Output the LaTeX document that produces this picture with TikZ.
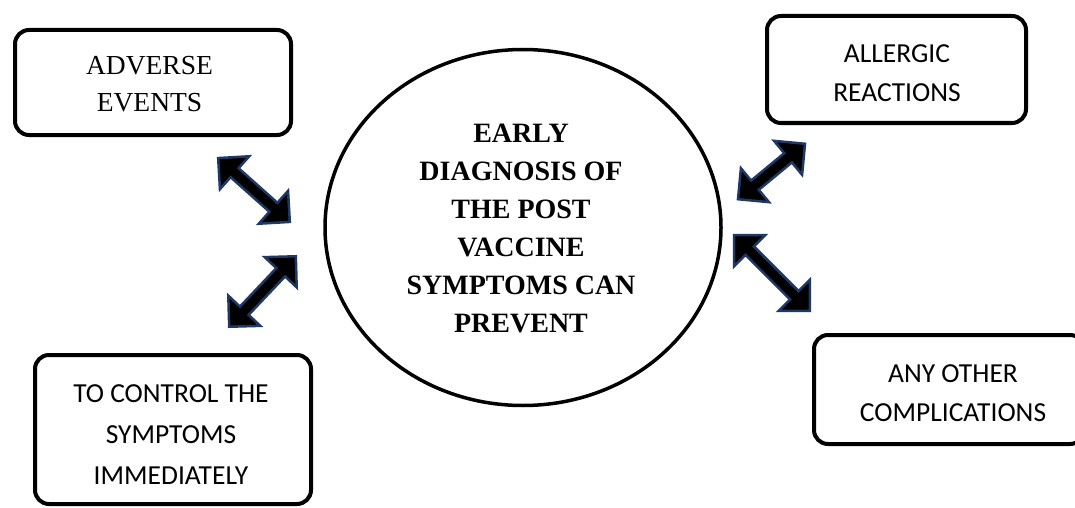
\documentclass[tikz,border=0pt]{standalone}
\usepackage{fontspec}
\setmainfont{Liberation Serif}
\newfontfamily\calib{Carlito}
\usetikzlibrary{shapes.geometric}
\definecolor{arrownavy}{RGB}{31,56,100}
\tikzset{
  roundbox/.style={draw=black, line width=4pt, rounded corners=14pt, inner sep=0pt, rectangle},
  centertext/.style={font=\fontsize{28pt}{38pt}\selectfont\bfseries, align=center, inner sep=0pt},
  serifbox/.style={font=\fontsize{27.5pt}{37pt}\selectfont, align=center, inner sep=0pt},
  sansbox/.style={font=\calib\fontsize{27.5pt}{39pt}\selectfont, align=center, inner sep=0pt},
  arrowfill/.style={fill=black, draw=arrownavy, line width=2.5pt, line join=miter}
}
\newcommand\dblblockarrow[4]{% name, center, angle, length
  \coordinate (#1) at #2;
  \begin{scope}[shift={(#1)}, rotate=#3]
    \pgfmathsetmacro\arrhalf{#4/2}
    \draw[arrowfill] (-\arrhalf,0) -- (-\arrhalf+22,22) -- (-\arrhalf+22,6) -- (\arrhalf-22,6)
      -- (\arrhalf-22,22) -- (\arrhalf,0) -- (\arrhalf-22,-22) -- (\arrhalf-22,-6)
      -- (-\arrhalf+22,-6) -- (-\arrhalf+22,-22) -- cycle;
  \end{scope}}
\begin{document}
\begin{tikzpicture}[x=1pt, y=-1pt]
  \clip (0,0) rectangle (1075,508);
  \fill[white] (0,0) rectangle (1075,508);

  % central ellipse
  \node[draw=black, ellipse, line width=3.5pt, inner sep=0pt,
        minimum width=396pt, minimum height=356pt] (center) at (523,227.5) {};
  \node[centertext] (centertxt) at (521,228)
    {EARLY\\DIAGNOSIS OF\\THE POST\\VACCINE\\SYMPTOMS CAN\\PREVENT};

  % boxes
  \node[roundbox, minimum width=276pt, minimum height=105pt] (adverse) at (153,82.5) {};
  \node[serifbox] (adversetxt) at (149.5,84.5) {ADVERSE\\EVENTS};

  \node[roundbox, minimum width=259pt, minimum height=107pt] (allergic) at (896.5,69.5) {};
  \node[sansbox] (allergictxt) at (897,73.5) {ALLERGIC\\REACTIONS};

  \node[roundbox, minimum width=276pt, minimum height=149pt] (control) at (173,429.5) {};
  \node[sansbox, font=\calib\fontsize{27.5pt}{41pt}\selectfont] (controltxt) at (171,435)
    {TO CONTROL THE\\SYMPTOMS\\IMMEDIATELY};

  \node[roundbox, minimum width=270pt, minimum height=109pt] (other) at (949,389.5) {};
  \node[sansbox] (othertxt) at (953,393.5) {ANY OTHER\\COMPLICATIONS};

  % double block arrows
  \dblblockarrow{arrA}{(254,190)}{-41.7}{96}
  \dblblockarrow{arrB}{(262.5,291.5)}{46.6}{97}
  \dblblockarrow{arrC}{(771.5,171.5)}{39.6}{87}
  \dblblockarrow{arrD}{(772,273)}{-45}{107}
\end{tikzpicture}
\end{document}
